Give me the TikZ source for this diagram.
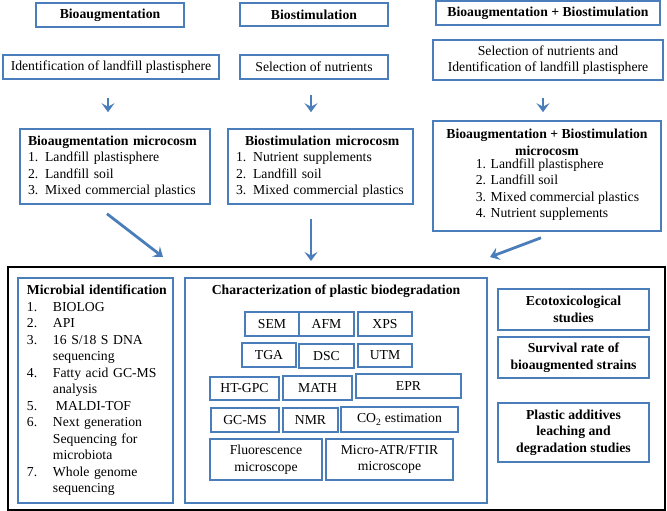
\documentclass[tikz,border=0pt]{standalone}
\usepackage{fontspec}
\setmainfont{Liberation Serif}
\usetikzlibrary{arrows.meta}
\definecolor{boxblue}{RGB}{74,126,187}
\begin{document}
\begin{tikzpicture}[x=1pt,y=-1pt,
  every node/.style={font=\fontsize{13.7}{16.5}\selectfont},
  bbox/.style={draw=boxblue,line width=1.6pt,inner sep=0pt,align=center},
  lbox/.style={bbox,align=left},
  arr/.style={draw=boxblue,line width=2.8pt,-{Stealth[length=9pt,width=13pt,inset=3.5pt]}}]
\useasboundingbox (0,0) rectangle (667,511);
% top row
\node[bbox,minimum width=148pt,minimum height=24pt] (bioaug) at (110,15) {\bfseries Bioaugmentation};
\node[bbox,minimum width=148pt,minimum height=23pt] (biostim) at (314,14.5) {\bfseries Biostimulation};
\node[bbox,minimum width=224pt,minimum height=24pt] (both) at (548,13) {\bfseries Bioaugmentation + Biostimulation};
% second row
\node[bbox,minimum width=216pt,minimum height=24pt] (ident) at (111,67) {Identification of landfill plastisphere};
\node[bbox,minimum width=148pt,minimum height=24pt] (selnut) at (314,67) {Selection of nutrients};
\node[bbox,minimum width=230pt,minimum height=40pt] (selboth) at (548,60) {Selection of nutrients and\\Identification of landfill plastisphere};
% third row
\node[lbox,minimum width=190pt,minimum height=75pt,text width=174pt] (bamicro) at (115,166.5)
  {{\bfseries Bioaugmentation microcosm}\\1. Landfill plastisphere\\2. Landfill soil\\3. Mixed commercial plastics};
\node[lbox,minimum width=185pt,minimum height=75pt,text width=169pt] (bsmicro) at (320.5,166.5)
  {\hspace*{9pt}{\bfseries Biostimulation microcosm}\\1. Nutrient supplements\\2. Landfill soil\\3. Mixed commercial plastics};
\node[bbox,minimum width=228pt,minimum height=110pt] (bbmicro) at (547,176)
  {{\bfseries Bioaugmentation + Biostimulation}\\{\bfseries microcosm}\\
   \hspace*{21pt}\begin{tabular}{@{}l@{}}1. Landfill plastisphere\\2. Landfill soil\\3. Mixed commercial plastics\\4. Nutrient supplements\end{tabular}};
% outer box
\node[draw=black,line width=2pt,minimum width=657pt,minimum height=243pt,inner sep=0pt] (outer) at (336.5,388.5) {};
% microbial identification
\node[lbox,minimum width=155pt,minimum height=225pt,text width=137pt] (microb) at (95.5,390.5)
  {\makebox[137pt][l]{\bfseries Microbial identification}\\
   \makebox[26pt][l]{1.}BIOLOG\\
   \makebox[26pt][l]{2.}API\\
   \makebox[26pt][l]{3.}16 S/18 S DNA\\
   \hspace*{26pt}sequencing\\
   \makebox[26pt][l]{4.}Fatty acid GC-MS\\
   \hspace*{26pt}analysis\\
   \makebox[26pt][l]{5.}\hspace*{3pt}MALDI-TOF\\
   \makebox[26pt][l]{6.}Next generation\\
   \hspace*{26pt}Sequencing for\\
   \hspace*{26pt}microbiota\\
   \makebox[26pt][l]{7.}Whole genome\\
   \hspace*{26pt}sequencing};
% characterization
\node[bbox,minimum width=302pt,minimum height=225pt] (charbox) at (336,390.5) {};
\node[inner sep=0pt] (chartitle) at (336,291) {\bfseries Characterization of plastic biodegradation};
\node[bbox,minimum width=54pt,minimum height=24pt] (sem) at (272,324) {SEM};
\node[bbox,minimum width=55pt,minimum height=24pt] (afm) at (326.5,324) {AFM};
\node[bbox,minimum width=54pt,minimum height=24pt] (xps) at (385,324) {XPS};
\node[bbox,minimum width=54pt,minimum height=24pt] (tga) at (269,355) {TGA};
\node[bbox,minimum width=55pt,minimum height=24pt] (dsc) at (326.5,356) {DSC};
\node[bbox,minimum width=54pt,minimum height=23pt] (utm) at (385,355.5) {UTM};
\node[bbox,minimum width=69pt,minimum height=23pt] (htgpc) at (244.5,388.5) {HT-GPC};
\node[bbox,minimum width=69pt,minimum height=24pt] (math) at (317.5,388) {MATH};
\node[bbox,minimum width=105pt,minimum height=24pt] (epr) at (408.5,386) {EPR};
\node[bbox,minimum width=68pt,minimum height=24pt] (gcms) at (245,420) {GC-MS};
\node[bbox,minimum width=55pt,minimum height=24pt] (nmr) at (310.5,420) {NMR};
\node[bbox,minimum width=117pt,minimum height=25pt] (co2) at (399.5,419.5) {CO\textsubscript{2} estimation};
\node[bbox,minimum width=112pt,minimum height=41pt] (fluor) at (266,459.5) {Fluorescence\\microscope};
\node[bbox,minimum width=127pt,minimum height=41pt] (ftir) at (389.5,459.5) {Micro-ATR/FTIR\\microscope};
% right boxes
\node[bbox,minimum width=151pt,minimum height=41pt] (ecotox) at (573.5,309.5) {\bfseries Ecotoxicological\\\bfseries studies};
\node[bbox,minimum width=151pt,minimum height=41pt] (surv) at (573.5,357.5) {\bfseries Survival rate of\\\bfseries bioaugmented strains};
\node[bbox,minimum width=151pt,minimum height=59pt] (addit) at (573.5,432.5) {\bfseries Plastic additives\\\bfseries leaching and\\\bfseries degradation studies};
% arrows
\draw[arr] ([xshift=-3pt,yshift=-18pt]ident.south) -- ([xshift=-7pt,yshift=16pt]bamicro.north);
\draw[arr] ([xshift=-3pt,yshift=-15pt]selnut.south) -- ([xshift=-9.5pt,yshift=16pt]bsmicro.north);
\draw[arr] ([xshift=-5pt,yshift=-17pt]selboth.south) -- ([xshift=-4pt,yshift=8pt]bbmicro.north);
\draw[arr] ([xshift=-8pt,yshift=-9pt]bamicro.south) -- ([xshift=-173.5pt,yshift=9pt]outer.north);
\draw[arr] ([xshift=-9.5pt,yshift=-14pt]bsmicro.south) -- ([xshift=-25.5pt,yshift=5pt]outer.north);
\draw[arr] ([xshift=-6pt,yshift=-6pt]bbmicro.south) -- ([xshift=153.5pt,yshift=9pt]outer.north);
\end{tikzpicture}
\end{document}
